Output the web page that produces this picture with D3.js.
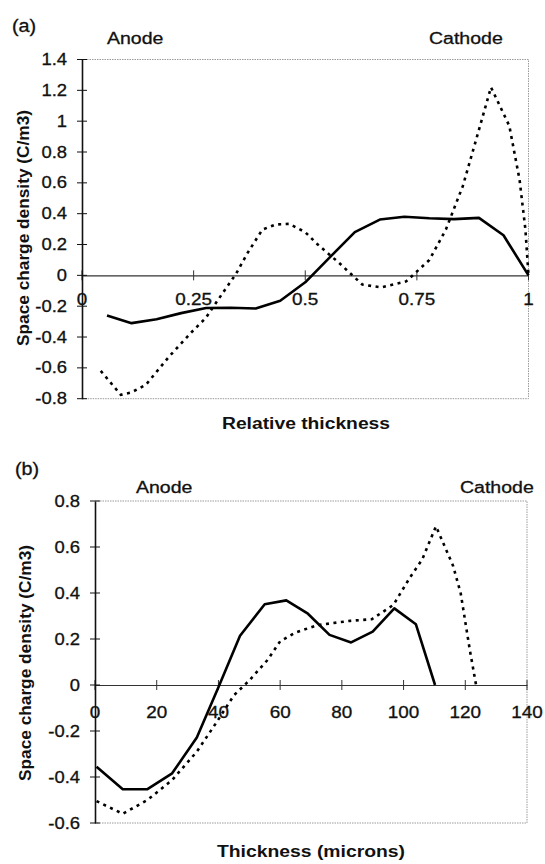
<!DOCTYPE html>
<html>
<head>
<meta charset="utf-8">
<script src="https://cdn.jsdelivr.net/npm/d3@7"></script>
<style>
  html, body { margin: 0; padding: 0; background: #fff; }
  svg { display: block; }
  text { font-family: "Liberation Sans", Arial, sans-serif; fill: #111; }
  text.reg { stroke: #111; stroke-width: 0.3; }
</style>
</head>
<body>
<svg id="chart" width="545" height="864"></svg>
<script>
// ---------- Panel (a): relative thickness ----------
const aTicksX = [0, 0.25, 0.5, 0.75, 1];
const aTickLabelsX = ["0", "0.25", "0.5", "0.75", "1"];
const aTicksY = [-0.8, -0.6, -0.4, -0.2, 0, 0.2, 0.4, 0.6, 0.8, 1, 1.2, 1.4];
const aTickLabelsY = ["-0.8", "-0.6", "-0.4", "-0.2", "0", "0.2", "0.4", "0.6", "0.8", "1", "1.2", "1.4"];

const aSolidX = [0.056, 0.111, 0.167, 0.222, 0.278, 0.333, 0.389, 0.444, 0.5, 0.556, 0.611, 0.667, 0.722, 0.778, 0.833, 0.889, 0.944, 1.0];
const aSolidY = [-0.26, -0.31, -0.285, -0.245, -0.212, -0.21, -0.215, -0.165, -0.045, 0.12, 0.28, 0.362, 0.38, 0.37, 0.365, 0.373, 0.26, 0.0];

const aDotX = [0.042, 0.087, 0.11, 0.143, 0.195, 0.247, 0.277, 0.315, 0.345, 0.371, 0.404, 0.434, 0.464, 0.5, 0.528, 0.576, 0.628, 0.67, 0.726, 0.778, 0.815, 0.853, 0.883, 0.916, 0.957, 0.98, 0.993, 1.0];
const aDotY = [-0.62, -0.775, -0.76, -0.71, -0.527, -0.364, -0.277, -0.115, 0.01, 0.146, 0.297, 0.33, 0.334, 0.28, 0.2, 0.08, -0.06, -0.078, -0.039, 0.10, 0.297, 0.58, 0.883, 1.22, 0.97, 0.62, 0.3, 0.0];

// ---------- Panel (b): thickness in microns ----------
const bTicksX = [0, 20, 40, 60, 80, 100, 120, 140];
const bTickLabelsX = ["0", "20", "40", "60", "80", "100", "120", "140"];
const bTicksY = [-0.6, -0.4, -0.2, 0, 0.2, 0.4, 0.6, 0.8];
const bTickLabelsY = ["-0.6", "-0.4", "-0.2", "0", "0.2", "0.4", "0.6", "0.8"];

const bSolidX = [0.5, 9, 17, 25, 33, 40, 47, 55, 62, 69, 76, 83, 90, 97, 104, 110.2];
const bSolidY = [-0.355, -0.453, -0.453, -0.384, -0.228, -0.01, 0.214, 0.351, 0.368, 0.31, 0.218, 0.185, 0.232, 0.333, 0.264, 0.0];

const bDotX = [0.5, 9, 17, 25, 33, 39.5, 45, 50, 56, 60, 65, 72, 82.7, 89.7, 96.7, 102, 106, 110.5, 116, 118.5, 121.5, 123.5];
const bDotY = [-0.505, -0.56, -0.5, -0.413, -0.29, -0.16, -0.045, 0.02, 0.11, 0.19, 0.228, 0.26, 0.279, 0.286, 0.348, 0.466, 0.545, 0.69, 0.52, 0.40, 0.15, 0.0];

const svg = d3.select("#chart");

function stretch(sel, k) {
  sel.each(function () {
    const L = this.getComputedTextLength();
    this.setAttribute("textLength", (L * k).toFixed(1));
    this.setAttribute("lengthAdjust", "spacingAndGlyphs");
  });
}

function drawPanel(p) {
  const g = svg.append("g");
  const x = d3.scaleLinear().domain(p.xDomain).range([p.left, p.right]);
  const y = d3.scaleLinear().domain(p.yDomain).range([p.bottom, p.top]);

  // plot area border (dotted gray, top/right/bottom)
  g.append("path")
    .attr("d", `M${p.left},${p.top}H${p.right}V${p.bottom}H${p.left}`)
    .attr("fill", "none").attr("stroke", "#9a9a9a").attr("stroke-width", 1)
    .attr("stroke-dasharray", "1.5,1");

  // zero line (x axis) with ticks crossing
  const xAxis = d3.axisBottom(x).tickValues(p.ticksX).tickSize(0).tickFormat("");
  const xg = g.append("g").attr("transform", `translate(0,${y(0)})`).call(xAxis);
  xg.select(".domain").attr("stroke", "#333").attr("stroke-width", 1.2);
  g.selectAll(null).data(p.ticksX).join("line")
    .attr("x1", d => x(d)).attr("x2", d => x(d))
    .attr("y1", y(0) - 5).attr("y2", y(0) + 5)
    .attr("stroke", "#333").attr("stroke-width", 1);
  const xl = g.selectAll(null).data(p.ticksX).join("text")
    .attr("class", "reg")
    .attr("x", d => x(d)).attr("y", y(0) + p.xLabelDy)
    .attr("text-anchor", "middle").attr("font-size", 16)
    .text((d, i) => p.tickLabelsX[i]);
  stretch(xl, 1.18);

  // y axis
  const yAxis = d3.axisLeft(y).tickValues(p.ticksY).tickSize(0).tickFormat("");
  const yg = g.append("g").attr("transform", `translate(${p.left},0)`).call(yAxis);
  yg.select(".domain").attr("stroke", "#111").attr("stroke-width", 1.6);
  g.selectAll(null).data(p.ticksY).join("line")
    .attr("x1", p.left - 5).attr("x2", p.left + 5)
    .attr("y1", d => y(d)).attr("y2", d => y(d))
    .attr("stroke", "#111").attr("stroke-width", 1);
  const yl = g.selectAll(null).data(p.ticksY).join("text")
    .attr("class", "reg")
    .attr("x", p.left - 15).attr("y", d => y(d) + 5.5)
    .attr("text-anchor", "end").attr("font-size", 16)
    .text((d, i) => p.tickLabelsY[i]);
  stretch(yl, 1.15);

  // series
  const line = d3.line().x(d => x(d[0])).y(d => y(d[1]));
  const solid = p.solidX.map((v, i) => [v, p.solidY[i]]);
  const dotted = p.dotX.map((v, i) => [v, p.dotY[i]]);
  g.append("path").datum(dotted).attr("d", line)
    .attr("fill", "none").attr("stroke", "#000").attr("stroke-width", 2.6)
    .attr("stroke-dasharray", "3,4.5");
  g.append("path").datum(solid).attr("d", line)
    .attr("fill", "none").attr("stroke", "#000").attr("stroke-width", 2.6)
    .attr("stroke-linejoin", "round");

  // labels
  const lab = g.append("text").attr("class", "reg").attr("x", p.labelX).attr("y", p.labelY)
    .attr("font-size", 18).text(p.label);
  stretch(lab, 1.1);
  const an = g.append("text").attr("class", "reg").attr("x", p.anodeX).attr("y", p.anodeY)
    .attr("font-size", 16).text("Anode");
  stretch(an, 1.22);
  const ca = g.append("text").attr("class", "reg").attr("x", p.cathodeX).attr("y", p.anodeY)
    .attr("font-size", 16).text("Cathode");
  stretch(ca, 1.22);

  g.append("text").attr("x", p.xTitleX).attr("y", p.xTitleY)
    .attr("text-anchor", "middle").attr("font-size", 16).attr("font-weight", "bold")
    .attr("textLength", p.xTitleLen).attr("lengthAdjust", "spacingAndGlyphs")
    .text(p.xTitle);
  g.append("text")
    .attr("transform", `translate(${p.yTitleX},${p.yTitleY}) rotate(-90)`)
    .attr("text-anchor", "middle").attr("font-size", 16).attr("font-weight", "bold")
    .attr("textLength", 236).attr("lengthAdjust", "spacingAndGlyphs")
    .text("Space charge density (C/m3)");
}

drawPanel({
  xDomain: [0, 1], yDomain: [-0.8, 1.4],
  left: 82, right: 528.5, top: 59.5, bottom: 398.7,
  ticksX: aTicksX, tickLabelsX: aTickLabelsX,
  ticksY: aTicksY, tickLabelsY: aTickLabelsY,
  xLabelDy: 30,
  solidX: aSolidX, solidY: aSolidY, dotX: aDotX, dotY: aDotY,
  label: "(a)", labelX: 12, labelY: 32,
  anodeX: 107, anodeY: 44, cathodeX: 429,
  xTitle: "Relative thickness", xTitleX: 306, xTitleY: 429, xTitleLen: 168,
  yTitleX: 29, yTitleY: 228
});

drawPanel({
  xDomain: [0, 140], yDomain: [-0.6, 0.8],
  left: 95, right: 527, top: 501, bottom: 823,
  ticksX: bTicksX, tickLabelsX: bTickLabelsX,
  ticksY: bTicksY, tickLabelsY: bTickLabelsY,
  xLabelDy: 33,
  solidX: bSolidX, solidY: bSolidY, dotX: bDotX, dotY: bDotY,
  label: "(b)", labelX: 15, labelY: 475,
  anodeX: 136, anodeY: 493, cathodeX: 460,
  xTitle: "Thickness (microns)", xTitleX: 311, xTitleY: 857, xTitleLen: 188,
  yTitleX: 31, yTitleY: 663
});
</script>
</body>
</html>
